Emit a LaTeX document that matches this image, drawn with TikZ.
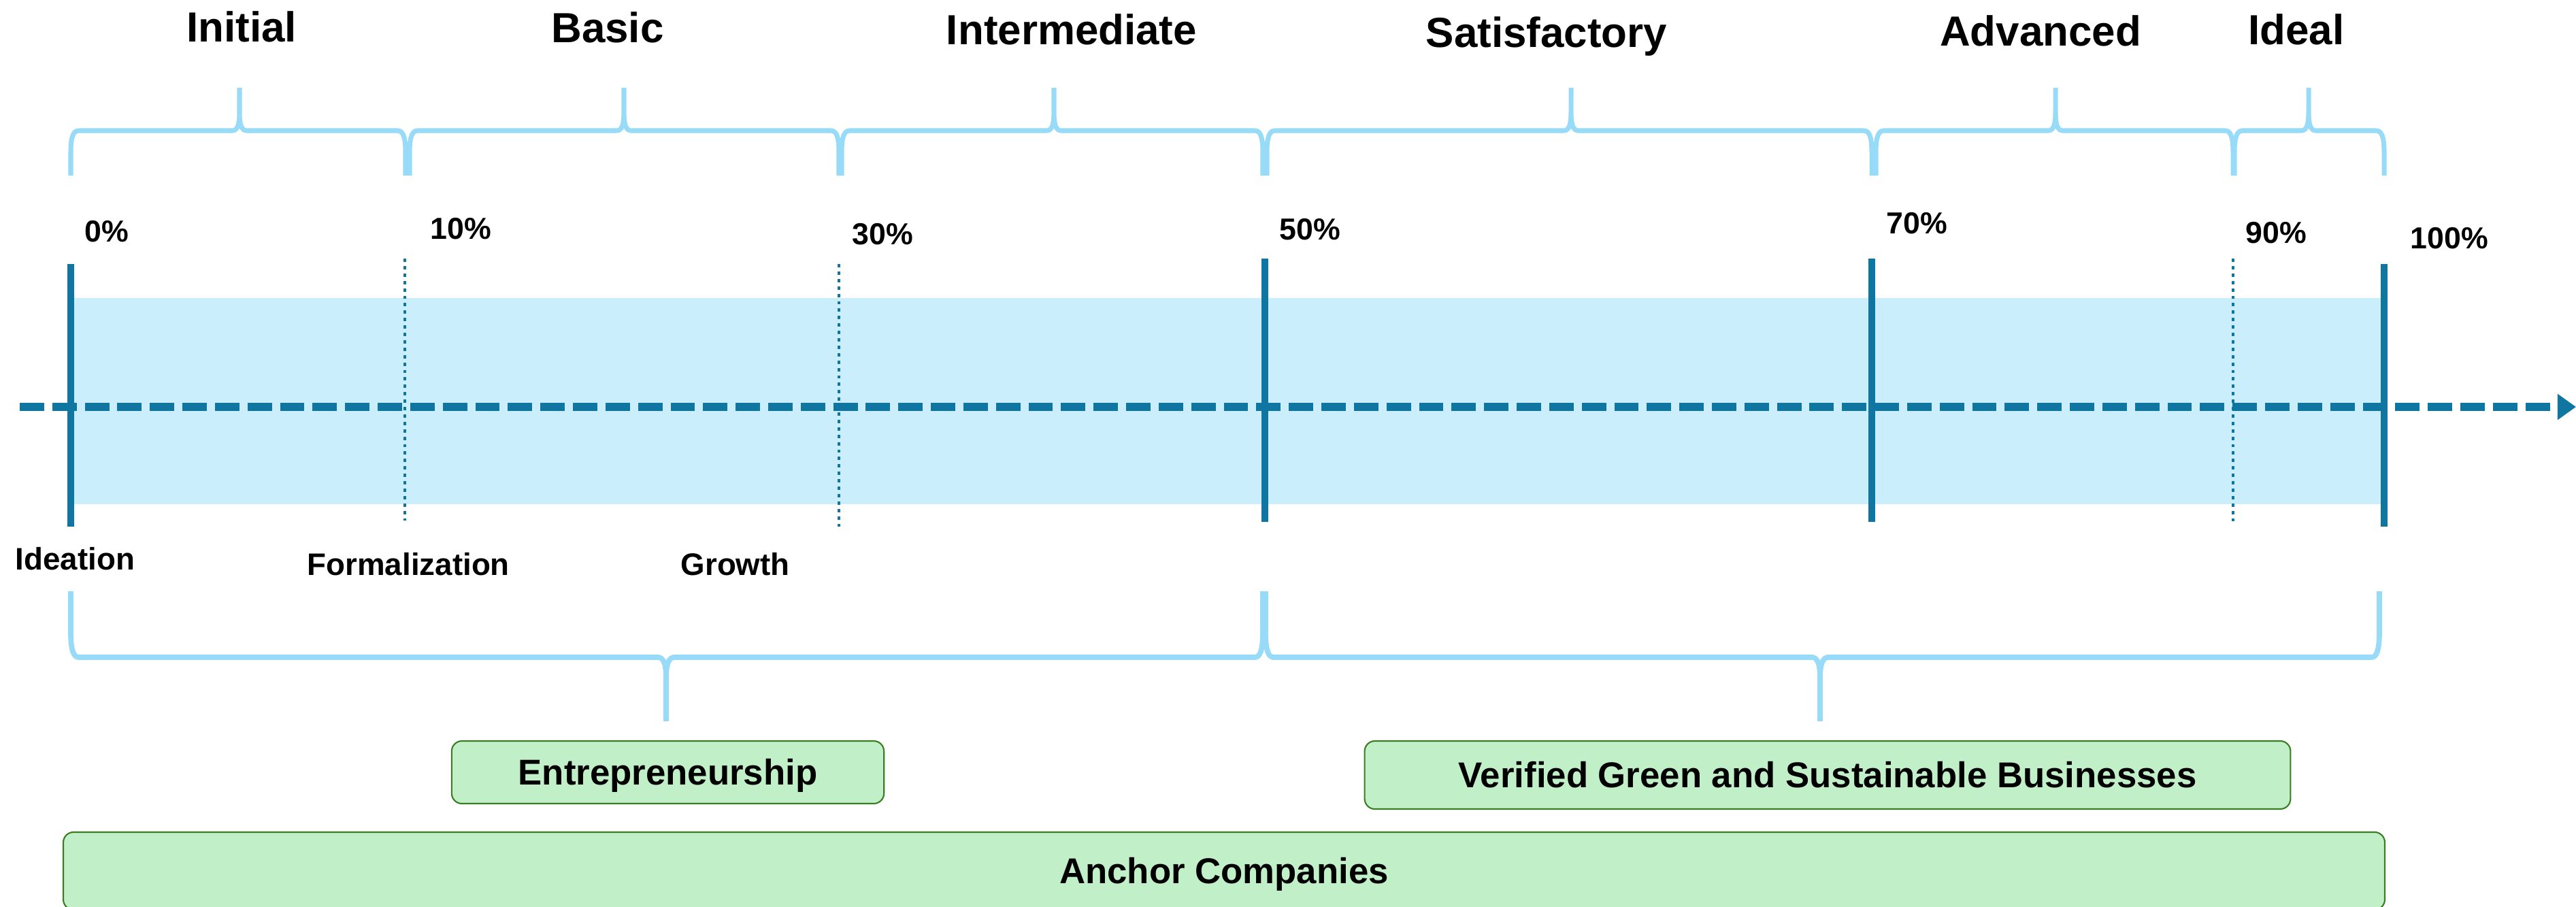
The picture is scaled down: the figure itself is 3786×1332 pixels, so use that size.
\documentclass[tikz,border=0pt]{standalone}
\usepackage{fontspec}
\setmainfont{Liberation Sans}
\usetikzlibrary{arrows.meta}

\definecolor{barblue}{RGB}{14,118,160}
\definecolor{bandblue}{RGB}{202,238,251}
\definecolor{braceblue}{RGB}{151,219,248}
\definecolor{boxgreen}{RGB}{193,240,200}
\definecolor{boxborder}{RGB}{59,125,35}

\tikzset{
  stage/.style={font=\fontsize{17.6}{21}\selectfont\bfseries, inner sep=0pt, anchor=base},
  pct/.style={font=\fontsize{12.7}{15}\selectfont\bfseries, inner sep=0pt, anchor=base west},
  phase/.style={font=\fontsize{13}{15}\selectfont\bfseries, inner sep=0pt, anchor=base west},
  groupbox/.style={draw=boxborder, line width=0.6pt, fill=boxgreen, rounded corners=4.3pt,
    font=\fontsize{15}{18}\selectfont\bfseries, inner sep=0pt, text height=10.7pt, text depth=0pt},
  solidbar/.style={barblue, line width=3pt},
  dotbar/.style={barblue, line width=1.15pt, dash pattern=on 1.4pt off 1.7pt},
  brace line/.style={braceblue, line width=2pt},
}

\begin{document}
\begin{tikzpicture}[x=0.01cm, y=-0.01cm]
  \useasboundingbox (0,0) rectangle (3786,1332);

  % light band behind the scale
  \fill[bandblue] (104,438) rectangle (3500,741);

  % dashed time axis
  \coordinate (axis start) at (29,598);
  \coordinate (axis end) at (3786,598);
  \draw[barblue, line width=3.6pt, dash pattern=on 10.2pt off 3.4pt,
    -{Triangle[length=7.7pt, width=10.4pt]}] (axis start) -- (axis end);

  % percentage marks
  \draw[solidbar] (104,388) -- (104,774);
  \draw[dotbar] (595,380) -- (595,765);
  \draw[dotbar] (1233,388) -- (1233,774);
  \draw[solidbar] (1859,380) -- (1859,767);
  \draw[solidbar] (2751,380) -- (2751,767);
  \draw[dotbar] (3282,380) -- (3282,767);
  \draw[solidbar] (3504,388) -- (3504,774);

  \node[pct] (p0) at (124,355) {0\%};
  \node[pct] (p10) at (632,351) {10\%};
  \node[pct] (p30) at (1252,359) {30\%};
  \node[pct] (p50) at (1880,352) {50\%};
  \node[pct] (p70) at (2772,343) {70\%};
  \node[pct] (p90) at (3300,357) {90\%};
  \node[pct] (p100) at (3542,365) {100\%};

  % stage braces
  \foreach \a/\m/\b in {104/352/596, 602/917/1233, 1237/1549/1856, 1862/2309/2751, 2757/3021/3282, 3284/3393/3504}
    \draw[brace line]
      (\a,258) -- (\a,224) .. controls (\a,200) and (\a+4,192) .. (\a+12,192)
        -- (\m-11,192) .. controls (\m-3,192) and (\m,184) .. (\m,164) -- (\m,129)
      (\b,258) -- (\b,224) .. controls (\b,200) and (\b-4,192) .. (\b-12,192)
        -- (\m+11,192) .. controls (\m+3,192) and (\m,184) .. (\m,164) -- (\m,129);

  \node[stage] (initial) at (355,61) {Initial};
  \node[stage] (basic) at (893,62) {Basic};
  \node[stage] (intermediate) at (1575,65) {Intermediate};
  \node[stage] (satisfactory) at (2273,69) {Satisfactory};
  \node[stage] (advanced) at (2999,67) {Advanced};
  \node[stage] (ideal) at (3375,65) {Ideal};

  % phases under the scale
  \node[phase] (ideation) at (22,837) {Ideation};
  \node[phase] (formalization) at (451,845) {Formalization};
  \node[phase] (growth) at (1000,845) {Growth};

  % group braces
  \foreach \a/\m/\b in {104/979/1856, 1860/2675/3497}
    \draw[brace line, line width=2.2pt]
      (\a,869) -- (\a,928) .. controls (\a,956) and (\a+4,966) .. (\a+12,966)
        -- (\m-12,966) .. controls (\m-4,966) and (\m,976) .. (\m,995) -- (\m,1060)
      (\b,869) -- (\b,928) .. controls (\b,956) and (\b-4,966) .. (\b-12,966)
        -- (\m+12,966) .. controls (\m+4,966) and (\m,976) .. (\m,995) -- (\m,1060);

  % groups
  \node[groupbox, minimum width=6.35cm, minimum height=0.92cm] (entrepreneurship) at (981.5,1135) {Entrepreneurship};
  \node[groupbox, minimum width=13.6cm, minimum height=1cm] (verified) at (2686,1139) {Verified Green and Sustainable Businesses};
  \node[groupbox, minimum width=34.1cm, minimum height=1.14cm] (anchor) at (1799,1280) {Anchor Companies};
\end{tikzpicture}
\end{document}
